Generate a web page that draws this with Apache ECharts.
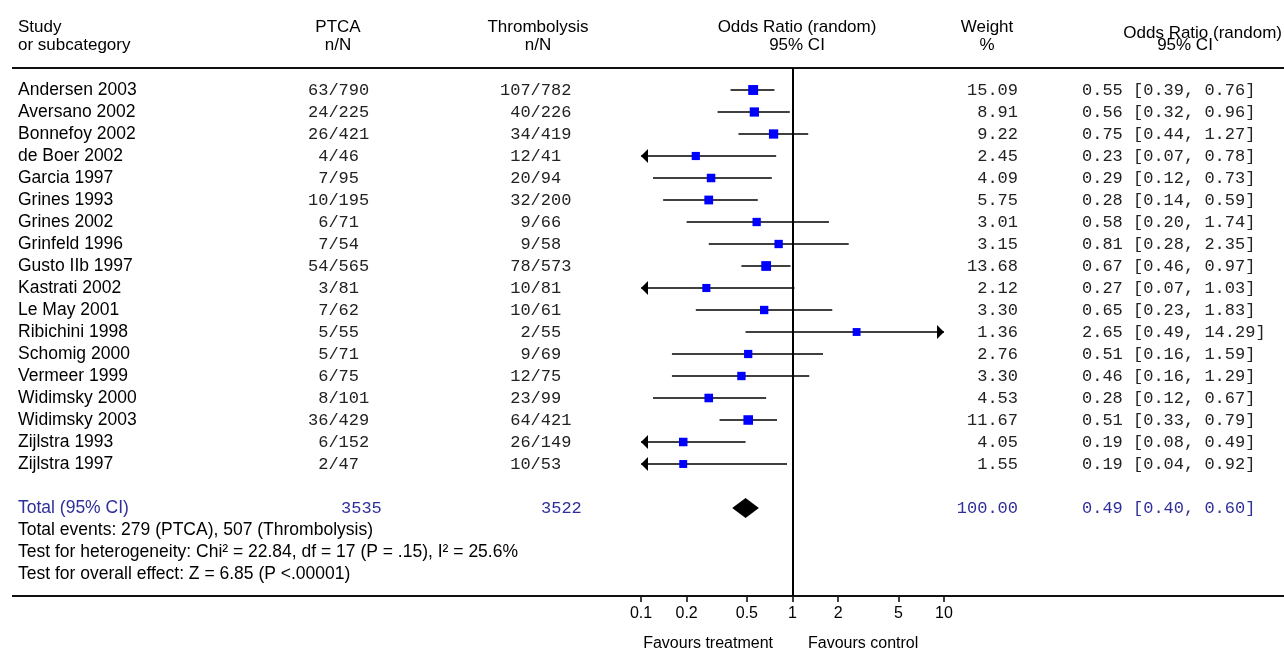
<!DOCTYPE html>
<html>
<head>
<meta charset="utf-8">
<script src="https://cdn.jsdelivr.net/npm/echarts@6/dist/echarts.min.js"></script>
<style>
  html, body { margin: 0; padding: 0; background: #fff; }
  #main { width: 1284px; height: 649px; }
</style>
</head>
<body>
<div id="main"></div>
<script>
var studies = ['Andersen 2003', 'Aversano 2002', 'Bonnefoy 2002', 'de Boer 2002', 'Garcia 1997',
  'Grines 1993', 'Grines 2002', 'Grinfeld 1996', 'Gusto IIb 1997', 'Kastrati 2002', 'Le May 2001',
  'Ribichini 1998', 'Schomig 2000', 'Vermeer 1999', 'Widimsky 2000', 'Widimsky 2003',
  'Zijlstra 1993', 'Zijlstra 1997'];
var ptcaEvents = [63, 24, 26, 4, 7, 10, 6, 7, 54, 3, 7, 5, 5, 6, 8, 36, 6, 2];
var ptcaTotal = [790, 225, 421, 46, 95, 195, 71, 54, 565, 81, 62, 55, 71, 75, 101, 429, 152, 47];
var thrEvents = [107, 40, 34, 12, 20, 32, 9, 9, 78, 10, 10, 2, 9, 12, 23, 64, 26, 10];
var thrTotal = [782, 226, 419, 41, 94, 200, 66, 58, 573, 81, 61, 55, 69, 75, 99, 421, 149, 53];
var weights = ['15.09', '8.91', '9.22', '2.45', '4.09', '5.75', '3.01', '3.15', '13.68', '2.12',
  '3.30', '1.36', '2.76', '3.30', '4.53', '11.67', '4.05', '1.55'];
var oddsRatio = [0.55, 0.56, 0.75, 0.23, 0.29, 0.28, 0.58, 0.81, 0.67, 0.27, 0.65, 2.65, 0.51, 0.46, 0.28, 0.51, 0.19, 0.19];
var ciLow = [0.39, 0.32, 0.44, 0.07, 0.12, 0.14, 0.20, 0.28, 0.46, 0.07, 0.23, 0.49, 0.16, 0.16, 0.12, 0.33, 0.08, 0.04];
var ciHigh = [0.76, 0.96, 1.27, 0.78, 0.73, 0.59, 1.74, 2.35, 0.97, 1.03, 1.83, 14.29, 1.59, 1.29, 0.67, 0.79, 0.49, 0.92];

var totalPtca = 3535, totalThr = 3522, totalWeight = '100.00';
var totalOr = 0.49, totalLow = 0.40, totalHigh = 0.60;
var footerLines = [
  'Total events: 279 (PTCA), 507 (Thrombolysis)',
  'Test for heterogeneity: Chi\u00b2 = 22.84, df = 17 (P = .15), I\u00b2 = 25.6%',
  'Test for overall effect: Z = 6.85 (P <.00001)'
];
var orTicks = [0.1, 0.2, 0.5, 1, 2, 5, 10];
var xMin = 0.1, xMax = 10;

// fonts / colours
var SANS = '"Liberation Sans", Arial, sans-serif';
var MONO = '"Liberation Mono", "Courier New", monospace';
var BLUE = '#2f2f9c';
var TOTAL_ROW = 19;

function pad(s, n) { s = String(s); while (s.length < n) s = ' ' + s; return s; }
function f2(v) { return v.toFixed(2); }

// text cells of the table (x in page pixels, y in row units)
var cells = [];
function cell(x, row, text, align, font, color) {
  cells.push({ x: x, row: row, text: text, align: align, font: font, color: color || '#000' });
}
var HD = '17px ' + SANS;
var S = '17.5px ' + SANS;
var M = '17px ' + MONO;
cell(18, -2.86, 'Study', 'left', HD);
cell(18, -2.05, 'or subcategory', 'left', HD);
cell(338, -2.86, 'PTCA', 'center', HD);
cell(338, -2.05, 'n/N', 'center', HD);
cell(538, -2.86, 'Thrombolysis', 'center', HD);
cell(538, -2.05, 'n/N', 'center', HD);
cell(797, -2.86, 'Odds Ratio (random)', 'center', HD);
cell(797, -2.05, '95% CI', 'center', HD);
cell(987, -2.86, 'Weight', 'center', HD);
cell(987, -2.05, '%', 'center', HD);
cell(1282, -2.58, 'Odds Ratio (random)', 'right', HD);
cell(1185, -2.05, '95% CI', 'center', HD);

studies.forEach(function (s, i) {
  cell(18, i, s, 'left', S);
  cell(308, i, pad(ptcaEvents[i], 2) + '/' + ptcaTotal[i], 'left', M, '#222');
  cell(500, i, pad(thrEvents[i], 3) + '/' + thrTotal[i], 'left', M, '#222');
  cell(1018, i, weights[i], 'right', M, '#222');
  cell(1082, i, f2(oddsRatio[i]) + ' [' + f2(ciLow[i]) + ', ' + f2(ciHigh[i]) + ']', 'left', M, '#222');
});
cell(18, TOTAL_ROW, 'Total (95% CI)', 'left', S, BLUE);
cell(341, TOTAL_ROW, String(totalPtca), 'left', M, BLUE);
cell(541, TOTAL_ROW, String(totalThr), 'left', M, BLUE);
cell(1018, TOTAL_ROW, totalWeight, 'right', M, BLUE);
cell(1082, TOTAL_ROW, f2(totalOr) + ' [' + f2(totalLow) + ', ' + f2(totalHigh) + ']', 'left', M, BLUE);
footerLines.forEach(function (t, k) {
  cell(18, TOTAL_ROW + 1 + k, t, 'left', S);
});
cell(773, 25.15, 'Favours treatment', 'right', '16px ' + SANS);
cell(808, 25.15, 'Favours control', 'left', '16px ' + SANS);

var ruleRows = [-1, 23];

var chart = echarts.init(document.getElementById('main'));
chart.setOption({
  animation: false,
  backgroundColor: '#fff',
  grid: [
    { left: 641, right: 340, top: 68, bottom: 53 },
    { left: 0, right: 0, top: 68, bottom: 53 }
  ],
  xAxis: [
    {
      type: 'log', gridIndex: 0, logBase: 10, min: xMin, max: xMax, position: 'bottom',
      axisLine: { show: true, onZero: false, lineStyle: { color: '#000', width: 2 } },
      splitLine: { show: false },
      axisTick: { customValues: orTicks, length: 6, lineStyle: { color: '#000', width: 1.5 } },
      axisLabel: {
        customValues: orTicks, color: '#000', fontSize: 16, fontFamily: SANS, margin: 10,
        formatter: function (v) { return String(+(+v).toPrecision(3)); }
      }
    },
    { type: 'value', gridIndex: 1, min: 0, max: 1284, show: false }
  ],
  yAxis: [
    { type: 'value', gridIndex: 0, min: -1, max: 23, inverse: true, show: false },
    { type: 'value', gridIndex: 1, min: -1, max: 23, inverse: true, show: false }
  ],
  series: [
    {
      // horizontal rules of the table
      type: 'custom', xAxisIndex: 1, yAxisIndex: 1, silent: true,
      data: ruleRows.map(function (r) { return [12, r, 1284]; }),
      encode: { x: [0, 2], y: 1 },
      renderItem: function (params, api) {
        var a = api.coord([api.value(0), api.value(1)]);
        var b = api.coord([api.value(2), api.value(1)]);
        return { type: 'line', shape: { x1: a[0], y1: a[1], x2: b[0], y2: b[1] },
          style: { stroke: '#111', lineWidth: 2 } };
      }
    },
    {
      // confidence intervals with arrows when off scale
      type: 'custom', xAxisIndex: 0, yAxisIndex: 0, silent: true, z: 3,
      data: studies.map(function (s, i) { return [ciLow[i], ciHigh[i], i]; }),
      encode: { x: [0, 1], y: 2 },
      renderItem: function (params, api) {
        var lo = api.value(0), hi = api.value(1), row = api.value(2);
        var a = api.coord([Math.max(lo, xMin), row]);
        var b = api.coord([Math.min(hi, xMax), row]);
        var kids = [{ type: 'line', shape: { x1: a[0], y1: a[1], x2: b[0], y2: b[1] },
          style: { stroke: '#000', lineWidth: 1.6 } }];
        if (lo < xMin) {
          kids.push({ type: 'polygon', shape: { points: [[a[0], a[1]], [a[0] + 7, a[1] - 7], [a[0] + 7, a[1] + 7]] },
            style: { fill: '#000' } });
        }
        if (hi > xMax) {
          kids.push({ type: 'polygon', shape: { points: [[b[0], b[1]], [b[0] - 7, b[1] - 7], [b[0] - 7, b[1] + 7]] },
            style: { fill: '#000' } });
        }
        return { type: 'group', children: kids };
      }
    },
    {
      // study estimates
      type: 'scatter', xAxisIndex: 0, yAxisIndex: 0, z: 4, silent: true,
      symbol: 'rect',
      symbolSize: function (d) { return 7 + Math.sqrt(d[2]) * 0.75; },
      itemStyle: { color: '#0000ff', opacity: 1 },
      data: studies.map(function (s, i) { return [oddsRatio[i], i, parseFloat(weights[i])]; }),
      markLine: {
        silent: true, symbol: 'none', animation: false,
        label: { show: false },
        lineStyle: { color: '#000', width: 2, type: 'solid' },
        data: [{ xAxis: 1 }]
      }
    },
    {
      // pooled estimate diamond
      type: 'custom', xAxisIndex: 0, yAxisIndex: 0, silent: true, z: 4,
      data: [[totalLow, totalOr, totalHigh, TOTAL_ROW]],
      encode: { x: [0, 2], y: 3 },
      renderItem: function (params, api) {
        var row = api.value(3);
        var l = api.coord([api.value(0), row]);
        var m = api.coord([api.value(1), row]);
        var r = api.coord([api.value(2), row]);
        return { type: 'polygon',
          shape: { points: [[l[0], l[1]], [m[0], m[1] - 10], [r[0], r[1]], [m[0], m[1] + 10]] },
          style: { fill: '#000' } };
      }
    },
    {
      // table text
      type: 'custom', xAxisIndex: 1, yAxisIndex: 1, silent: true, z: 5,
      data: cells.map(function (c) { return [c.x, c.row]; }),
      renderItem: function (params, api) {
        var c = cells[params.dataIndex];
        var p = api.coord([api.value(0), api.value(1)]);
        return { type: 'text', x: p[0], y: p[1],
          style: { text: c.text, font: c.font, fill: c.color, align: c.align, verticalAlign: 'middle' } };
      }
    }
  ]
});
</script>
</body>
</html>
